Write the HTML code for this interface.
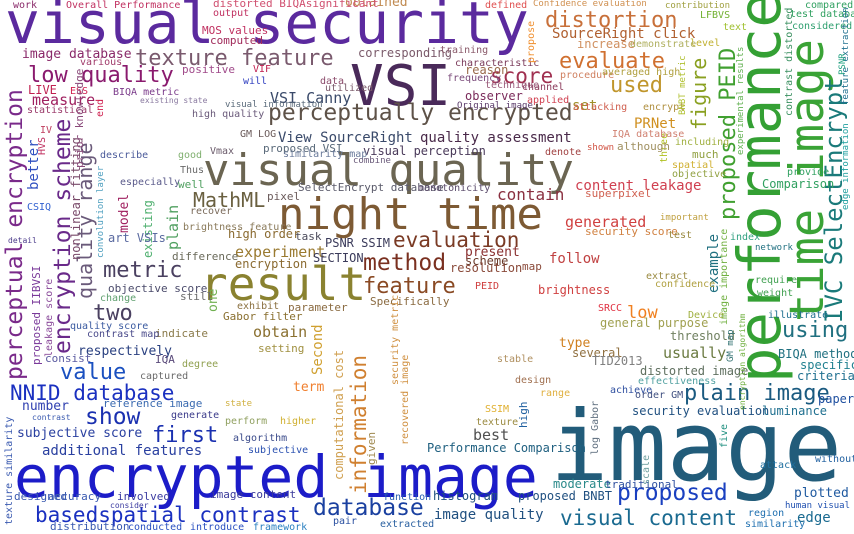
<!DOCTYPE html>
<html><head><meta charset="utf-8">
<style>
html,body{margin:0;padding:0;background:#fff;}
svg{display:block;}
text{font-family:"DejaVu Sans Mono","Liberation Mono",monospace;}
</style></head>
<body>
<svg id="cloud" width="854" height="534" viewBox="0 0 854 534" xmlns="http://www.w3.org/2000/svg">
<rect x="0" y="0" width="854" height="534" fill="#ffffff"/>
</svg>
<script>
// word cloud data: words and their weights (font size ~ frequency)
const words = ["visual security","VSI","image","performance","time image","encrypted image","visual quality","night time","result","perceptually encrypted","texture feature","low quality","distortion","evaluate","used","score","method","feature","evaluation","metric","two","MathML","encryption scheme","perceptual encryption","quality range","NNID database","value","show","first","basedspatial contrast","database","plain image","proposed","visual content","using","IVC SelectEncrypt","proposed PEID","figure","information","additional features","image quality","SourceRight click","VSI Canny","measure","View SourceRight","quality assessment","experiment","obtain","content leakage","generated","PRNet","follow","usually","low","subjective score","respectively","number","image database","plotted","edge","best","type","Second","one","plain","model","better","example","set","observer","contain","security evaluation","LIVE","obtained","corresponding","proposed VSI","visual perception","SelectEncrypt database","monotonicity","pixel","brightness","general purpose","threshold","distorted image","several","TID2013","moderate","traditional","histogram","proposed BNBT","Performance Comparison","luminance","paper","BIQA method","specific","criteria","Comparison","three","term","existing","nonlinear fitting","SECTION","encryption","PSNR SSIM","Specifically","present","scheme","resolution","map","high order","task","recover","brightness feature","Overall Performance","work","distorted BIQAsignificant","output","MOS values","computed","various","positive","VIF","will","data","utilized","BIQA metric","statistical","ESS","visual information","high quality","describe","especially","Thus","well","good","CSIQ","detail","difference","art VSIs","Gabor filter","exhibit","parameter","indicate","setting","degree","captured","IQA","consist","quality score","contrast map","objective score","still","change","reference image","generate","algorithm","subjective","image content","accuracy","involved","designed","distribution","conducted","introduce","framework","pair","extracted","function","texture similarity","proposed IIBVSI","leakage score","given","computational cost","recovered image","security metric","state","perform","higher","training","characteristic","frequency","reason","Original image","denote","shown","although","superpixel","security score","important","test","spatial","objective","including","much","contribution","compared","LFBVS","test database","text","considered","level","propose","increase","demonstrate","procedure","averaged high","attacking","IQA database","defined","Confidence evaluation","contrast distorted","feature extraction","edge information","PSNR","experimental results","image importance","encryption algorithm","GM map","network","require","weight","illustrate","provide","index","human visual","region","similarity","without","attack","five","log Gabor","scale","high","texture","SSIM","range","design","stable","achieve","order GM","effectiveness","Device","SRCC","extract","confidence","PEID","prior knowledge","convolution layer","HVS","end","IV","channel","technique","applied","encrypt","BNBT metric","GM LOG","Vmax","similarity map","combine","existing state","consider","contrast"];
const weights = [58,56,97,59,47,58,44,44,46,23,22,22,22,22,22,21,23,22,21,22,22,20,23,23,20,21,22,23,22,21,23,22,23,21,22,24,22,20,21,14,14,14,15,15,14,14,15,15,14,15,14,14,15,17,13,13,13,13,13,14,15,13,14,13,15,13,14,14,14,12,16,12,12,13,12,11,12,11,10,11,12,12,12,12,12,12,12,11,12,12,12,12,12,12,12,12,12,10,13,12,12,12,12,12,11,13,12,12,11,12,11,10,10,10,10,11,10,11,11,10,11,10,10,10,10,10,10,10,9,10,10,10,10,11,10,10,8,11,12,11,10,11,11,11,10,10,11,11,10,10,11,11,10,11,10,10,10,11,11,11,11,11,10,10,10,10,10,10,10,11,10,11,12,10,10,9,10,10,10,10,10,12,9,10,9,11,11,11,9,10,10,10,10,11,9,10,10,10,10,10,10,10,12,10,10,10,10,10,10,9,10,9,9,9,9,10,8,9,9,10,10,10,10,10,9,10,10,10,10,10,10,10,11,10,10,10,10,10,10,10,10,10,10,10,10,10,11,9,10,10,10,10,10,10,10,9,10,10,10,9,8,8,8,8,10,8,9,10];
// layout: [x, baselineY, rotated(1 = vertical reading upward), colour]
const layout = [
[5,43,0,"#5b2a9e"],[350,105,0,"#4a2a5a"],[550,480,0,"#225c7a"],[780,383,1,"#34a034"],[823,322,1,"#3aa336"],
[14,497,0,"#1c1cc8"],[203,185,0,"#6b6552"],[278,229,0,"#7d5a34"],[200,300,0,"#8a8230"],[268,120,0,"#5e5248"],
[135,65,0,"#7a5a6e"],[28,82,0,"#8a1a6e"],[545,27,0,"#c8703a"],[559,68,0,"#d07030"],[610,92,0,"#c0962c"],
[490,83,0,"#a03050"],[363,270,0,"#7a3020"],[363,293,0,"#8a4a24"],[393,247,0,"#7a3a24"],[103,277,0,"#4a4060"],
[93,320,0,"#4a4060"],[193,207,0,"#6a6040"],[70,354,1,"#6a2a8a"],[22,380,1,"#7a2a8a"],[92,299,1,"#6a5a7a"],
[10,400,0,"#1a30c0"],[60,379,0,"#1a50c0"],[85,424,0,"#1a30b0"],[152,442,0,"#1a30b0"],[35,522,0,"#1a30c0"],
[313,515,0,"#1a40a0"],[684,400,0,"#1a5a80"],[617,500,0,"#1a40c0"],[560,525,0,"#1a6a90"],[782,337,0,"#207080"],
[842,323,1,"#1a7a7a"],[735,220,1,"#40a030"],[706,130,1,"#8aa020"],[366,494,1,"#d08030"],[42,455,0,"#2a40a0"],
[434,519,0,"#205080"],[552,38,0,"#b06030"],[270,103,0,"#3a4a6a"],[32,105,0,"#a02060"],[278,142,0,"#3a4a6a"],
[420,142,0,"#4a2a4a"],[235,257,0,"#9a7a30"],[253,337,0,"#8a7030"],[575,190,0,"#d04050"],[565,227,0,"#d04040"],
[634,128,0,"#d09020"],[549,263,0,"#c04040"],[663,358,0,"#6a7a40"],[627,318,0,"#f08020"],[17,437,0,"#2a40a0"],
[78,355,0,"#2a4080"],[22,410,0,"#3040b0"],[22,58,0,"#8a2a6a"],[794,497,0,"#205aa0"],[797,522,0,"#1a6a90"],
[473,440,0,"#505050"],[559,347,0,"#d08020"],[322,375,1,"#d0a030"],[217,312,1,"#70b050"],[178,250,1,"#50a060"],
[128,233,1,"#a02060"],[38,190,1,"#3050c0"],[718,293,1,"#207080"],[572,110,0,"#a0902a"],[465,100,0,"#7a2a5a"],
[497,200,0,"#8a3040"],[632,415,0,"#205080"],[28,94,0,"#c02050"],[345,6,0,"#c08a50"],[358,57,0,"#7a5a6a"],
[263,152,0,"#5a6a7a"],[363,155,0,"#4a3a5a"],[298,191,0,"#5a5a6a"],[418,191,0,"#5a4a6a"],[267,200,0,"#6a5a5a"],
[538,294,0,"#d04040"],[600,327,0,"#a0a050"],[670,340,0,"#708060"],[640,375,0,"#607060"],[572,357,0,"#907040"],
[592,365,0,"#808080"],[553,488,0,"#2a8a8a"],[605,488,0,"#3050a0"],[433,500,0,"#205080"],[518,500,0,"#205080"],
[427,452,0,"#206080"],[762,415,0,"#207090"],[818,403,0,"#2050a0"],[778,358,0,"#207080"],[800,369,0,"#208090"],
[797,380,0,"#207090"],[762,188,0,"#30a060"],[667,163,1,"#b0c020"],[293,391,0,"#f08030"],[152,258,1,"#50b070"],
[80,260,1,"#7a4a6a"],[313,262,0,"#3a3a5a"],[235,268,0,"#8a6a30"],[325,247,0,"#3a3a5a"],[370,305,0,"#8a6a40"],
[465,256,0,"#8a3030"],[465,265,0,"#6a3a2a"],[450,272,0,"#8a4a3a"],[522,270,0,"#8a4a3a"],[228,238,0,"#8a6a30"],
[295,240,0,"#4a4a5a"],[190,214,0,"#7a6a5a"],[183,230,0,"#8a7a5a"],[66,8,0,"#c03060"],[13,8,0,"#8a2a6a"],
[213,7,0,"#d05070"],[213,16,0,"#c03060"],[202,34,0,"#c03060"],[210,44,0,"#a02a5a"],[80,65,0,"#a03a6a"],
[182,73,0,"#a04a8a"],[253,72,0,"#c02050"],[243,84,0,"#3040c0"],[320,84,0,"#8a4a6a"],[325,91,0,"#7a5a6a"],
[113,95,0,"#7a3a8a"],[27,113,0,"#9a3a6a"],[70,94,0,"#d02050"],[225,107,0,"#5a6a7a"],[192,117,0,"#6a5a7a"],
[100,158,0,"#4a5a9a"],[120,185,0,"#5a5a8a"],[180,173,0,"#6a6a6a"],[178,188,0,"#50a060"],[178,158,0,"#80b070"],
[27,210,0,"#3060d0"],[8,243,0,"#4a3a8a"],[172,260,0,"#6a6a5a"],[108,242,0,"#5a6aa0"],[223,320,0,"#8a7030"],
[237,309,0,"#8a7040"],[288,311,0,"#8a6a40"],[155,337,0,"#8a7a4a"],[258,352,0,"#a09040"],[182,367,0,"#90a050"],
[140,379,0,"#6a6a6a"],[155,363,0,"#5a4a7a"],[45,362,0,"#5a5aa0"],[70,329,0,"#3a5aa0"],[87,337,0,"#4a4a8a"],
[108,292,0,"#4a4a6a"],[180,300,0,"#6a6a6a"],[100,301,0,"#60a070"],[103,407,0,"#3a6ab0"],[171,418,0,"#3a3a8a"],
[233,441,0,"#3a4a8a"],[248,453,0,"#2a50b0"],[210,498,0,"#3a3a9a"],[48,500,0,"#3a5ab0"],[117,500,0,"#3a3aa0"],
[14,500,0,"#3a5ab0"],[50,530,0,"#3a5ab0"],[128,530,0,"#2a50c0"],[190,530,0,"#2a50c0"],[253,530,0,"#2a80c0"],
[333,524,0,"#2a50a0"],[380,527,0,"#2a60a0"],[383,500,0,"#2a60b0"],[12,525,1,"#3a5ab0"],[40,365,1,"#7a3a9a"],
[52,357,1,"#8a4a9a"],[375,465,1,"#a08a50"],[343,480,1,"#d0a050"],[408,445,1,"#d09040"],[398,385,1,"#d09040"],
[225,406,0,"#d0b040"],[225,424,0,"#90a060"],[280,424,0,"#d0b030"],[440,53,0,"#8a5a6a"],[455,66,0,"#7a3a5a"],
[447,81,0,"#7a4a7a"],[465,74,0,"#9a6a4a"],[457,108,0,"#5a3a6a"],[545,155,0,"#a04040"],[587,150,0,"#d05040"],
[617,150,0,"#a09060"],[585,197,0,"#d06050"],[585,235,0,"#d08040"],[660,220,0,"#c0a040"],[668,238,0,"#9a8a40"],
[672,168,0,"#d0b030"],[672,177,0,"#90a040"],[675,145,0,"#a0b040"],[692,158,0,"#90a040"],[665,8,0,"#a0a040"],
[805,8,0,"#30a060"],[700,18,0,"#70b030"],[790,17,0,"#30a060"],[723,30,0,"#a0c030"],[792,29,0,"#30a070"],
[690,46,0,"#c0b030"],[534,63,1,"#f09030"],[577,48,0,"#d09060"],[630,47,0,"#b0b060"],[560,78,0,"#d08060"],
[602,75,0,"#b0a040"],[573,110,0,"#d06050"],[612,137,0,"#d08070"],[485,8,0,"#e05050"],[533,6,0,"#d09050"],
[792,116,1,"#3a9060"],[848,105,1,"#207090"],[848,210,1,"#20a0a0"],[845,75,1,"#20a080"],[743,155,1,"#60b050"],
[727,325,1,"#70b040"],[745,410,1,"#70b040"],[733,362,1,"#307070"],[755,250,0,"#207080"],[755,283,0,"#40a050"],
[757,296,0,"#40a050"],[768,318,0,"#207090"],[787,175,0,"#30a060"],[730,240,0,"#30a080"],[785,508,0,"#2050b0"],
[748,516,0,"#2070b0"],[745,527,0,"#2070b0"],[815,462,0,"#2060a0"],[760,468,0,"#2070a0"],[727,448,1,"#209080"],
[598,455,1,"#607080"],[649,485,1,"#70a0a0"],[527,428,1,"#2060a0"],[476,425,0,"#9a8a40"],[485,412,0,"#e0b030"],
[540,396,0,"#e0b040"],[515,383,0,"#a07050"],[497,362,0,"#b09060"],[610,393,0,"#3050a0"],[635,398,0,"#405080"],
[638,384,0,"#50a0a0"],[688,318,0,"#a0b040"],[598,311,0,"#e03040"],[646,279,0,"#9a8a40"],[655,287,0,"#b0a040"],
[475,289,0,"#d04040"],[83,168,1,"#8a4a7a"],[103,258,1,"#50a0c0"],[45,155,1,"#c03060"],[103,117,1,"#d02050"],
[40,133,0,"#c04060"],[522,90,0,"#8a3a5a"],[485,88,0,"#9a5a7a"],[527,103,0,"#d04050"],[643,110,0,"#b09040"],
[685,115,1,"#b0c030"],[240,137,0,"#6a5a5a"],[210,154,0,"#6a5a6a"],[283,157,0,"#6a7a9a"],[353,163,0,"#6a5a7a"],
[140,103,0,"#8a7aa0"],[110,508,0,"#3a3aa0"],[32,420,0,"#3a5ab0"]
];
const svg = document.getElementById('cloud');
const NS = 'http://www.w3.org/2000/svg';
for (let i = 0; i < words.length; i++) {
  const L = layout[i];
  if (!L) continue;
  const t = document.createElementNS(NS, 'text');
  t.setAttribute('x', L[0]);
  t.setAttribute('y', L[1]);
  t.setAttribute('font-size', weights[i]);
  t.setAttribute('fill', L[3]);
  if (L[2]) t.setAttribute('transform', 'rotate(-90 ' + L[0] + ' ' + L[1] + ')');
  t.textContent = words[i];
  
  
  svg.appendChild(t);
}
</script>
</body></html>
